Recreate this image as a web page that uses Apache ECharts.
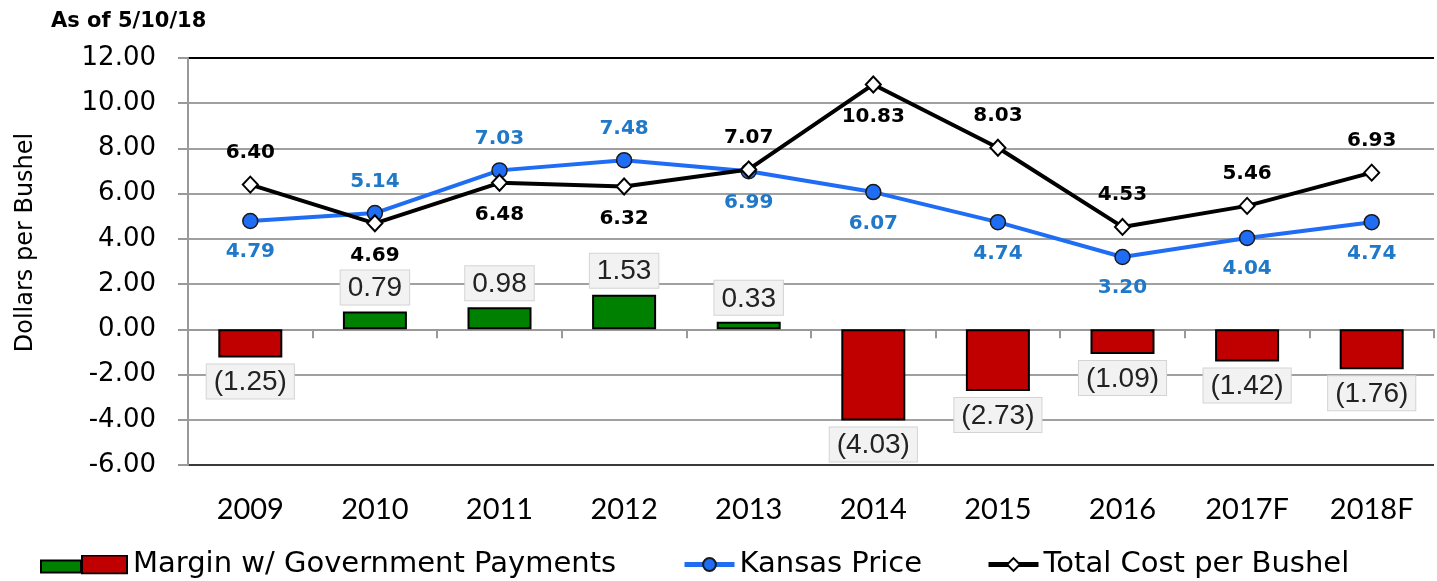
<!DOCTYPE html>
<html>
<head>
<meta charset="utf-8">
<title>Kansas margin</title>
<script src="https://cdn.jsdelivr.net/npm/echarts@6/dist/echarts.min.js"></script>
<style>
  html, body { margin: 0; padding: 0; background: #fff; }
  #chart { width: 1437px; height: 581px; }
</style>
</head>
<body>
<div id="chart"></div>
<script>
// values
const years = ['2009', '2010', '2011', '2012', '2013', '2014', '2015', '2016', '2017F', '2018F'];
const margin = [-1.25, 0.79, 0.98, 1.53, 0.33, -4.03, -2.73, -1.09, -1.42, -1.76];
const kansasPrice = [4.79, 5.14, 7.03, 7.48, 6.99, 6.07, 4.74, 3.20, 4.04, 4.74];
const totalCost = [6.40, 4.69, 6.48, 6.32, 7.07, 10.83, 8.03, 4.53, 5.46, 6.93];
const yTicks = { min: -6, max: 12, step: 2 };

// where each point label sits
const priceLabelPos = ['bottom', 'top', 'top', 'top', 'bottom', 'bottom', 'bottom', 'bottom', 'bottom', 'bottom'];
const costLabelPos = ['top', 'bottom', 'bottom', 'bottom', 'top', 'bottom', 'top', 'top', 'top', 'top'];

const GREEN = '#008000';
const RED = '#C00000';
const BLUE = '#1F6CF5';
const BLUE_TEXT = '#1F78C8';
const GRID_GRAY = '#A0A0A0';
const SANS = 'DejaVu Sans';

const marginIconSvg =
  "<svg xmlns='http://www.w3.org/2000/svg' width='88' height='20'>" +
  "<rect x='1' y='6' width='40' height='12' fill='" + GREEN + "' stroke='#000' stroke-width='2'/>" +
  "<rect x='42' y='1' width='45' height='18' fill='" + RED + "' stroke='#000' stroke-width='2'/>" +
  "</svg>";
const marginIcon = 'image://data:image/svg+xml;charset=utf-8,' + encodeURIComponent(marginIconSvg);

function fmtMargin(v) {
  return v < 0 ? '(' + Math.abs(v).toFixed(2) + ')' : v.toFixed(2);
}

// split line colours, bottom to top: dark at -6, black on top
const nLines = (yTicks.max - yTicks.min) / yTicks.step + 1;
const splitColors = [];
for (let i = 0; i < nLines; i++) {
  splitColors.push(i === 0 ? '#3a3a3a' : (i === nLines - 1 ? '#000000' : GRID_GRAY));
}

const legendText = { fontFamily: SANS, fontSize: 29, color: '#000' };

const chart = echarts.init(document.getElementById('chart'));

const option = {
  animation: false,
  backgroundColor: '#fff',
  title: {
    text: 'As of 5/10/18',
    left: 46,
    top: 6,
    textStyle: { fontFamily: SANS, fontSize: 21, fontWeight: 'bold', color: '#000' }
  },
  grid: { left: 188, right: 3, top: 58, bottom: 116 },
  legend: [
    {
      left: 35, top: 545,
      itemWidth: 88, itemHeight: 20,
      data: [{ name: 'Margin w/ Government Payments', icon: marginIcon }],
      textStyle: legendText
    },
    {
      left: 677, top: 545,
      itemWidth: 50, itemHeight: 16,
      data: ['Kansas Price'],
      lineStyle: { width: 5 },
      textStyle: legendText
    },
    {
      left: 981, top: 545,
      itemWidth: 50, itemHeight: 16,
      data: ['Total Cost per Bushel'],
      lineStyle: { width: 5 },
      textStyle: legendText
    }
  ],
  xAxis: [
    {
      // labels along the bottom
      type: 'category',
      data: years,
      axisLine: { show: false, onZero: false },
      axisTick: { show: false },
      axisLabel: { margin: 30, fontFamily: 'Lato', fontSize: 29, color: '#000' }
    },
    {
      // the zero line with ticks between the years
      type: 'category',
      data: years,
      position: 'bottom',
      axisLine: { show: true, onZero: true, lineStyle: { color: '#999', width: 2 } },
      axisTick: { show: true, length: 9, lineStyle: { color: '#999', width: 2 } },
      axisLabel: { show: false }
    }
  ],
  yAxis: {
    type: 'value',
    min: yTicks.min,
    max: yTicks.max,
    interval: yTicks.step,
    name: 'Dollars per Bushel',
    nameLocation: 'middle',
    nameGap: 150,
    nameTextStyle: { fontFamily: SANS, fontSize: 24, color: '#000', padding: [0, 0, 0, 38] },
    axisLine: { show: true, lineStyle: { color: '#999', width: 2 } },
    axisTick: { show: true, length: 10, lineStyle: { color: '#999', width: 2 } },
    axisLabel: {
      margin: 32,
      fontFamily: SANS, fontSize: 26, color: '#000',
      formatter: v => v.toFixed(2)
    },
    splitLine: { show: true, lineStyle: { color: splitColors, width: 2 } }
  },
  series: [
    {
      name: 'Margin w/ Government Payments',
      type: 'bar',
      barWidth: 64,
      data: margin.map(v => ({
        value: v,
        itemStyle: { color: v < 0 ? RED : GREEN },
        label: { position: v < 0 ? 'bottom' : 'top' }
      })),
      itemStyle: { borderColor: '#000', borderWidth: 2 },
      label: {
        show: true,
        distance: 7,
        formatter: p => fmtMargin(p.value),
        fontFamily: 'Liberation Sans',
        fontSize: 28,
        color: '#222',
        backgroundColor: '#F2F2F2',
        borderColor: '#D4D4D4',
        borderWidth: 1,
        padding: [4, 7, 2, 7]
      },
      z: 2
    },
    {
      name: 'Kansas Price',
      type: 'line',
      data: kansasPrice.map((v, i) => ({ value: v, label: { position: priceLabelPos[i] } })),
      lineStyle: { color: BLUE, width: 4 },
      itemStyle: { color: BLUE, borderColor: '#1a1a1a', borderWidth: 1.5 },
      symbol: 'circle',
      symbolSize: 15,
      label: {
        show: true,
        distance: 13,
        formatter: p => p.value.toFixed(2),
        fontFamily: SANS, fontSize: 20, fontWeight: 'bold', color: BLUE_TEXT
      },
      z: 3
    },
    {
      name: 'Total Cost per Bushel',
      type: 'line',
      data: totalCost.map((v, i) => ({ value: v, label: { position: costLabelPos[i] } })),
      lineStyle: { color: '#000', width: 4 },
      itemStyle: { color: '#fff', borderColor: '#000', borderWidth: 2 },
      symbol: 'diamond',
      symbolSize: [15, 16],
      label: {
        show: true,
        distance: 13,
        formatter: p => p.value.toFixed(2),
        fontFamily: SANS, fontSize: 20, fontWeight: 'bold', color: '#000'
      },
      z: 4
    }
  ]
};

chart.setOption(option);
</script>
</body>
</html>
